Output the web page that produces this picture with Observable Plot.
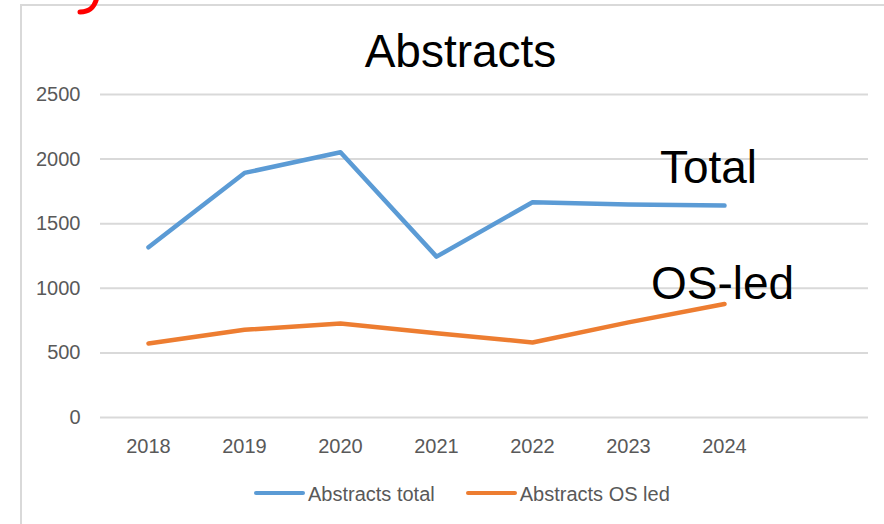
<!DOCTYPE html>
<html>
<head>
<meta charset="utf-8">
<script src="https://cdn.jsdelivr.net/npm/d3@7"></script>
<script src="https://cdn.jsdelivr.net/npm/@observablehq/plot@0.6"></script>
<style>
  html, body { margin: 0; padding: 0; background: #fff; overflow: hidden; }
  #wrap { position: relative; width: 884px; height: 524px; overflow: hidden; font-family: "Liberation Sans", Arial, sans-serif; }
  #frame { position: absolute; left: 20px; top: 4px; width: 1000px; height: 1000px; border: 2px solid #d9d9d9; box-sizing: border-box; }
  #deco { position: absolute; left: 0; top: 0; }
  #chart { position: absolute; left: 0; top: 0; }
  #legend { position: absolute; left: 254px; top: 483px; height: 22px; display: flex; align-items: flex-start; font-size: 20px; line-height: 22px; color: #595959; white-space: nowrap; }
  .item { display: flex; align-items: flex-start; margin-right: 31px; }
  .sw { width: 51px; height: 4.5px; border-radius: 3px; margin-top: 7.75px; margin-right: 3px; }
</style>
</head>
<body>
<div id="wrap">
  <div id="frame"></div>
  <svg id="deco" width="120" height="20"><path d="M97,-3 C95,6 91,12 80,12" fill="none" stroke="#ff0000" stroke-width="5" stroke-linecap="round"/></svg>
  <div id="chart"></div>
  <div id="legend"></div>
</div>
<script>
const years = [2018, 2019, 2020, 2021, 2022, 2023, 2024];
const totalValues = [1317, 1893, 2053, 1245, 1666, 1648, 1640];
const osLedValues = [573, 679, 728, 652, 581, 736, 879];
const yTicks = [0, 500, 1000, 1500, 2000, 2500];
const seriesNames = ["Abstracts total", "Abstracts OS led"];
const seriesColors = ["#5B9BD5", "#ED7D31"];
const annotations = ["Total", "OS-led"];
const title = "Abstracts";

const totalData = years.map((year, i) => ({year, value: totalValues[i], series: seriesNames[0]}));
const osData = years.map((year, i) => ({year, value: osLedValues[i], series: seriesNames[1]}));
const data = totalData.concat(osData);

const chart = Plot.plot({
  width: 884,
  height: 524,
  marginLeft: 100,
  marginRight: 16,
  marginTop: 94,
  marginBottom: 107,
  style: { fontFamily: "'Liberation Sans', Arial, sans-serif", fontSize: "20px", background: "transparent", overflow: "visible" },
  x: { domain: [2017.5, 2025.5], label: null, axis: null },
  y: { domain: [0, 2500], label: null, axis: null },
  color: { domain: seriesNames, range: seriesColors },
  marks: [
    Plot.gridY(yTicks, { stroke: "#d9d9d9", strokeOpacity: 1, strokeWidth: 2 }),
    Plot.axisY(yTicks, { tickSize: 0, tickPadding: 20, fill: "#595959", label: null, tickFormat: d => String(d) }),
    Plot.axisX(years, { tickSize: 0, tickPadding: 21, fill: "#595959", label: null, tickFormat: d => String(d) }),
    Plot.line(data, { x: "year", y: "value", z: "series", stroke: "series", strokeWidth: 4.5, strokeLinecap: "round", strokeLinejoin: "round" }),
    Plot.text(totalData, Plot.selectLast({ x: "year", y: "value", text: () => annotations[0], fontSize: 46, fill: "#000", lineAnchor: "bottom", dx: -16, dy: -23 })),
    Plot.text(osData, Plot.selectLast({ x: "year", y: "value", text: () => annotations[1], fontSize: 46, fill: "#000", lineAnchor: "bottom", dx: -2, dy: -5 })),
    Plot.text([title], { frameAnchor: "top", text: d => d, fontSize: 46, fill: "#000", lineAnchor: "bottom", dx: -24, dy: -28 })
  ]
});
document.getElementById("chart").appendChild(chart);

const legend = document.getElementById("legend");
seriesNames.forEach((name, i) => {
  const item = document.createElement("div");
  item.className = "item";
  const sw = document.createElement("div");
  sw.className = "sw";
  sw.style.background = seriesColors[i];
  const label = document.createElement("span");
  label.textContent = name;
  item.appendChild(sw);
  item.appendChild(label);
  legend.appendChild(item);
});
</script>
</body>
</html>
